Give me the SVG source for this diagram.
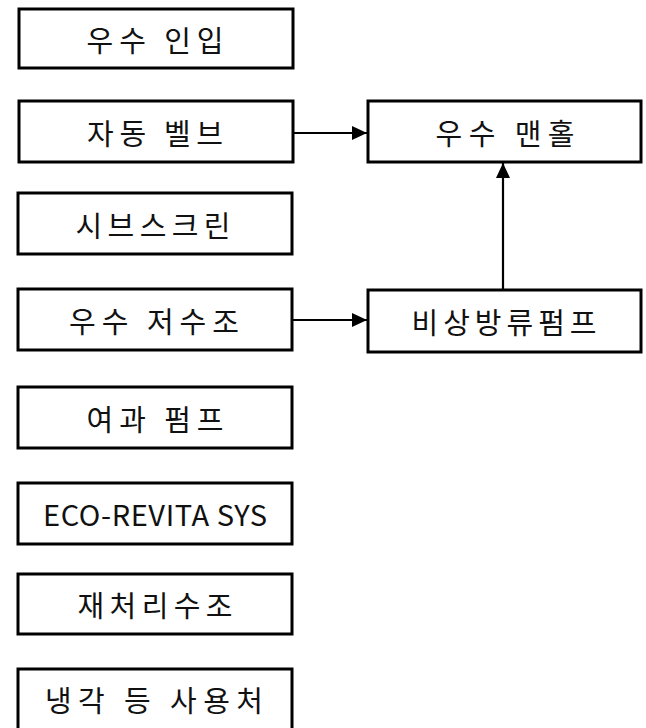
<svg xmlns="http://www.w3.org/2000/svg" width="646" height="728" viewBox="0 0 646 728">
<style>
.box{fill:#fff;stroke:#000;stroke-width:3}
.lbl{font-family:"Noto Sans CJK KR","Noto Sans",sans-serif;font-size:29px;fill:#111;text-anchor:middle}
.conn{stroke:#000;stroke-width:2.2;fill:none}
</style>
<defs>
<marker id="ah" markerUnits="userSpaceOnUse" markerWidth="16" markerHeight="14" refX="15" refY="7" orient="auto">
<path d="M0,0 L15,7 L0,14 z" fill="#000"/>
</marker>
</defs>
<rect width="646" height="728" fill="#fff"/>
<g id="n1"><rect class="box" x="19" y="9" width="274" height="59"/><text class="lbl" x="155" y="51.5" textLength="137" lengthAdjust="spacing">우수 인입</text></g>
<g id="n2"><rect class="box" x="19" y="101" width="274" height="61"/><text class="lbl" x="155" y="144.5" textLength="136" lengthAdjust="spacing">자동 벨브</text></g>
<g id="n3"><rect class="box" x="18" y="193" width="274" height="61"/><text class="lbl" x="153" y="236.5" textLength="155" lengthAdjust="spacing">시브스크린</text></g>
<g id="n4"><rect class="box" x="18" y="289" width="274" height="61"/><text class="lbl" x="154" y="332.5" textLength="170" lengthAdjust="spacing">우수 저수조</text></g>
<g id="n5"><rect class="box" x="18" y="387" width="274" height="61"/><text class="lbl" x="155" y="430.5" textLength="137" lengthAdjust="spacing">여과 펌프</text></g>
<g id="n6"><rect class="box" x="18" y="483" width="274" height="61"/><text class="lbl" x="155" y="525.5" textLength="224" lengthAdjust="spacing">ECO-REVITA SYS</text></g>
<g id="n7"><rect class="box" x="18" y="574" width="274" height="60"/><text class="lbl" x="155" y="617" textLength="155" lengthAdjust="spacing">재처리수조</text></g>
<g id="n8"><rect class="box" x="18" y="669" width="274" height="64"/><text class="lbl" x="154" y="712" textLength="218" lengthAdjust="spacing">냉각 등 사용처</text></g>
<g id="n9"><rect class="box" x="368" y="101" width="273" height="61"/><text class="lbl" x="505" y="144.5" textLength="139" lengthAdjust="spacing">우수 맨홀</text></g>
<g id="n10"><rect class="box" x="368" y="290" width="273" height="62"/><text class="lbl" x="504" y="334" textLength="185" lengthAdjust="spacing">비상방류펌프</text></g>
<g id="connectors">
<line class="conn" x1="294" y1="133" x2="367" y2="133" marker-end="url(#ah)"/>
<line class="conn" x1="293" y1="320" x2="367" y2="320" marker-end="url(#ah)"/>
<line class="conn" x1="503" y1="289" x2="503" y2="163" marker-end="url(#ah)"/>
</g>
</svg>
